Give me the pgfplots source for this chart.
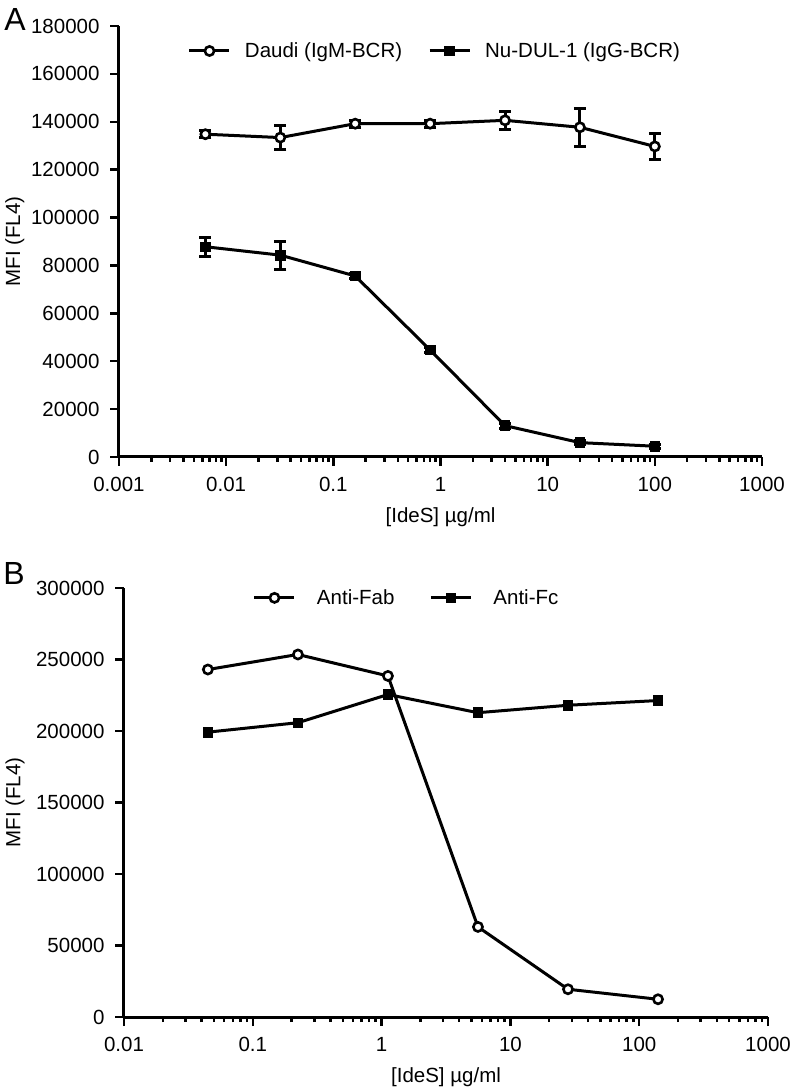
\documentclass[border=0pt]{standalone}
\usepackage{fontspec}
\setmainfont{Liberation Sans}
\usepackage{pgfplots}
\pgfplotsset{compat=1.18}
\newcommand{\fs}{\fontsize{20.5}{24}\selectfont}
\pgfplotsset{
  legend image code/.code={
    \draw[mark repeat=2,mark phase=2,#1] plot coordinates {(0pt,0pt)(20pt,0pt)(40pt,0pt)};
  },
}
\tikzset{
  circ/.style={black, line width=3pt, mark=*, mark size=4.6pt, mark options={fill=white, draw=black, line width=2.6pt}},
  sq/.style={black, line width=3pt, mark=square*, mark size=4.8pt, mark options={fill=black, draw=black, line width=0.8pt}},
}
\begin{document}
\begin{tikzpicture}
\path[use as bounding box] (0,0) rectangle (793pt,1091pt);
\node[font=\fontsize{32}{36}\selectfont] at (15pt,1071pt) {A};
\node[font=\fontsize{32}{36}\selectfont] at (14pt,517pt) {B};
% Panel A
\begin{axis}[
  xmode=log,
  scale only axis,
  axis lines=left,
  axis line style={-, line width=3pt},
  clip=false,
  tick align=outside,
  major tick length=9pt,
  minor tick length=5pt,
  every tick/.style={black, line width=2.5pt},
  tick label style={font=\fs},
  xticklabel style={yshift=-8pt},
  yticklabel style={xshift=-7pt},
  label style={font=\fs},
  scaled y ticks=false,
  ymin=0,
  legend columns=2,
  at={(119pt,634pt)}, anchor=south west,
  width=643pt, height=431pt,
  xmin=0.001, xmax=1000, ymax=180000,
  xtick={0.001,0.01,0.1,1,10,100,1000},
  xticklabels={0.001,0.01,0.1,1,10,100,1000},
  minor xtick={0.002,0.003,0.004,0.005,0.006,0.007,0.008,0.009,
    0.02,0.03,0.04,0.05,0.06,0.07,0.08,0.09,
    0.2,0.3,0.4,0.5,0.6,0.7,0.8,0.9,
    2,3,4,5,6,7,8,9,
    20,30,40,50,60,70,80,90,
    200,300,400,500,600,700,800,900},
  ytick={0,20000,40000,60000,80000,100000,120000,140000,160000,180000},
  yticklabels={0,20000,40000,60000,80000,100000,120000,140000,160000,180000},
  xlabel={[IdeS] µg/ml},
  ylabel={MFI (FL4)},
  xlabel style={at={(axis description cs:0.5,-0.139)}, anchor=center},
  ylabel style={at={(axis description cs:-0.162,0.5)}, anchor=center},
  legend style={draw=none, fill=none, font=\fs, inner sep=0pt,
    at={(axis description cs:0.107,0.942)}, anchor=west,
    /tikz/every odd column/.append style={column sep=12pt},
    /tikz/every even column/.append style={column sep=24pt}},
]
\addplot[circ, error bars/.cd, y dir=both, y explicit,
    error bar style={line width=3pt, black},
    error mark options={rotate=90, mark size=6pt, line width=3pt, black}]
  table[x=x, y=y, y error=e] {
x y e
0.0064 134800 1500
0.032 133400 4900
0.16 139200 1500
0.8 139200 1500
4 140600 3800
20 137700 8000
100 129700 5600
};
\addlegendentry{Daudi (IgM-BCR)}
\addplot[sq, error bars/.cd, y dir=both, y explicit,
    error bar style={line width=3pt, black},
    error mark options={rotate=90, mark size=6pt, line width=3pt, black}]
  table[x=x, y=y, y error=e] {
x y e
0.0064 87800 3900
0.032 84300 5800
0.16 75600 1000
0.8 44700 1000
4 13100 1000
20 6000 800
100 4500 800
};
\addlegendentry{Nu-DUL-1 (IgG-BCR)}
\end{axis}
% Panel B
\begin{axis}[
  xmode=log,
  scale only axis,
  axis lines=left,
  axis line style={-, line width=3pt},
  clip=false,
  tick align=outside,
  major tick length=9pt,
  minor tick length=5pt,
  every tick/.style={black, line width=2.5pt},
  tick label style={font=\fs},
  xticklabel style={yshift=-8pt},
  yticklabel style={xshift=-7pt},
  label style={font=\fs},
  scaled y ticks=false,
  ymin=0,
  legend columns=2,
  at={(124pt,74pt)}, anchor=south west,
  width=644pt, height=429pt,
  xmin=0.01, xmax=1000, ymax=300000,
  xtick={0.01,0.1,1,10,100,1000},
  xticklabels={0.01,0.1,1,10,100,1000},
  minor xtick={0.02,0.03,0.04,0.05,0.06,0.07,0.08,0.09,
    0.2,0.3,0.4,0.5,0.6,0.7,0.8,0.9,
    2,3,4,5,6,7,8,9,
    20,30,40,50,60,70,80,90,
    200,300,400,500,600,700,800,900},
  ytick={0,50000,100000,150000,200000,250000,300000},
  yticklabels={0,50000,100000,150000,200000,250000,300000},
  xlabel={[IdeS] µg/ml},
  ylabel={MFI (FL4)},
  xlabel style={at={(axis description cs:0.5,-0.14)}, anchor=center},
  ylabel style={at={(axis description cs:-0.169,0.5)}, anchor=center},
  legend style={draw=none, fill=none, font=\fs, inner sep=0pt,
    at={(axis description cs:0.2,0.977)}, anchor=west,
    /tikz/every odd column/.append style={column sep=19pt},
    /tikz/every even column/.append style={column sep=33pt}},
]
\addplot[circ] table[x=x, y=y] {
x y
0.0448 243000
0.224 253500
1.12 238500
5.6 63000
28 19400
140 12400
};
\addlegendentry{Anti-Fab}
\addplot[sq] table[x=x, y=y] {
x y
0.0448 199200
0.224 205800
1.12 225500
5.6 212800
28 218000
140 221300
};
\addlegendentry{Anti-Fc}
\end{axis}
\end{tikzpicture}
\end{document}
